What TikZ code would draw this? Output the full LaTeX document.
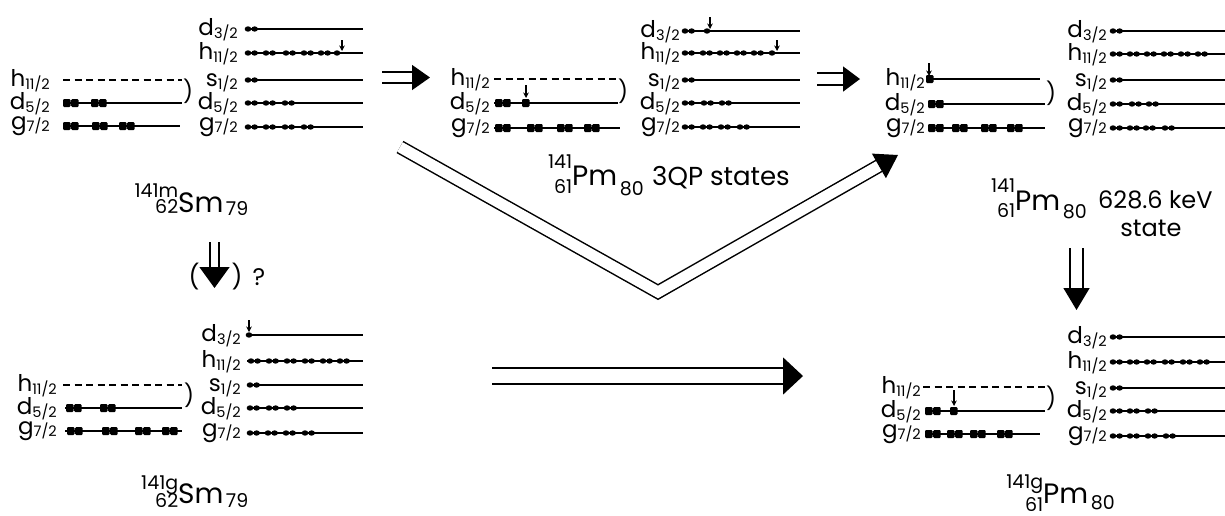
\documentclass[tikz,border=0pt]{standalone}
\usepackage{fontspec}
\setmainfont{Poppins}
\usetikzlibrary{arrows.meta}
\newcommand\forb{\fontsize{23}{23}\selectfont}
\newcommand\fsub{\fontsize{14.5}{14.5}\selectfont}
\newcommand\fel{\fontsize{28}{28}\selectfont}
\newcommand\fnum{\fontsize{19}{19}\selectfont}
\newcommand\ftxt{\fontsize{24}{24}\selectfont}
% orbital label: name, east x, line y, letter, sub
\newcommand\olab[5]{\node[lab] (#1) at (#2,#3+6) {{\forb #4}\raisebox{-3pt}{\fsub #5}};}
\newcommand\glab[5]{\node[lab] (#1) at (#2,#3+3) {{\forb #4}\raisebox{-2pt}{\fsub #5}};}
% levels
\newcommand\lev[3]{\draw[levl] (#1,#3) -- (#2,#3);}
\newcommand\dlev[3]{\draw[levl,dash pattern=on 7pt off 4.5pt] (#1,#3) -- (#2,#3);}
% particles
\newcommand\nn[2]{\fill (#1+3,#2) ellipse[x radius=3.3pt,y radius=2.7pt] (#1+9.6,#2) ellipse[x radius=3.3pt,y radius=2.7pt];}
\newcommand\ns[2]{\fill (#1+3,#2) ellipse[x radius=3.3pt,y radius=2.7pt];}
\newcommand\pp[2]{\fill[rounded corners=1.2pt] (#1,#2-4) rectangle ++(7.5,8) (#1+8.2,#2-4) rectangle ++(7.5,8);}
\newcommand\ps[2]{\fill[rounded corners=1.2pt] (#1,#2-4) rectangle ++(7.5,8);}
\newcommand\hole[3]{\draw[harr] (#1,#2) -- (#1,#3);}
% nuclide: A, Z, El, N, raiseA, lowerZ, lowerN
\newcommand\nuc[7]{{\fnum\llap{\raisebox{#5pt}{#1}}\llap{\raisebox{-#6pt}{#2}}}{\fel #3}\kern2.5pt{\fnum\raisebox{-#7pt}{#4}}}
\begin{document}
\begin{tikzpicture}[x=1pt,y=-1pt,
  lab/.style={anchor=base east,inner sep=0pt},
  levl/.style={line width=1.3pt},
  harr/.style={line width=1.4pt,-{Stealth[length=5.5pt,width=5.5pt]}},
  parn/.style={inner sep=0pt,font=\fontsize{22}{22}\selectfont},
  txt/.style={inner sep=0pt,font=\ftxt},
  dbl/.style={double,line width=1.5pt}]
\fill[white] (0,0) rectangle (1225,515);
\useasboundingbox (0,0) rectangle (1225,515);

% ===== Group A : 141m Sm =====
\dlev{63}{182}{80}\lev{63}{182}{103}\lev{63}{180}{126}
\olab{Aph}{50}{80}{h}{11/2}\olab{Apd}{50}{103}{d}{5/2}\glab{Apg}{50}{126}{g}{7/2}
\foreach \x in {63,91} {\pp{\x}{103}}
\foreach \x in {63,92,119} {\pp{\x}{126}}
\node[parn] (Apar) at (188,91) {)};
\foreach \y in {29,53,80,103,127} {\lev{245}{363}{\y}}
\olab{And}{238}{29}{d}{3/2}\olab{Anh}{238}{53}{h}{11/2}\olab{Ans}{238}{80}{s}{1/2}
\olab{And5}{238}{103}{d}{5/2}\glab{Ang}{238}{127}{g}{7/2}
\nn{245}{29}
\foreach \x in {245,263,283,301,318} {\nn{\x}{53}}
\ns{334}{53}\hole{342}{40}{51}
\nn{245}{80}
\foreach \x in {245,263,282} {\nn{\x}{103}}
\foreach \x in {245,263,282,301} {\nn{\x}{127}}
\node[anchor=base west,inner sep=0pt] (nucA) at (178,212) {\nuc{141m}{62}{Sm}{79}{15}{1}{3}};

% ===== Group B : 141 Pm 3QP =====
\dlev{494}{618}{79}\lev{494}{618}{103}\lev{494}{620}{128}
\olab{Bph}{490}{79}{h}{11/2}\olab{Bpd}{490}{103}{d}{5/2}\glab{Bpg}{490}{128}{g}{7/2}
\pp{495}{103}\ps{522}{103}\hole{526}{85}{98}
\foreach \x in {495,527,557,584} {\pp{\x}{128}}
\node[parn] (Bpar) at (623,91) {)};
\foreach \y in {31,53,80,103,127} {\lev{682}{800}{\y}}
\olab{Bnd}{680}{31}{d}{3/2}\olab{Bnh}{680}{53}{h}{11/2}\olab{Bns}{680}{80}{s}{1/2}
\olab{Bnd5}{680}{103}{d}{5/2}\glab{Bng}{680}{127}{g}{7/2}
\nn{682}{31}\ns{704}{31}\hole{710}{17}{29}
\foreach \x in {682,700,717,734,751} {\nn{\x}{53}}
\ns{769}{53}\hole{777}{40}{51}
\nn{682}{80}
\foreach \x in {682,701,719} {\nn{\x}{103}}
\foreach \x in {682,700,718,737} {\nn{\x}{127}}
\node[anchor=base west,inner sep=0pt] (nucB) at (572,185) {\nuc{141}{61}{Pm}{80}{17}{8}{10}};
\node[txt,anchor=base west,font=\fontsize{26}{26}\selectfont] (qp) at (652,185) {3QP states};

% ===== Group C : 141 Pm 628.6 keV =====
\lev{928}{1040}{79}\lev{928}{1045}{104}\lev{928}{1045}{128}
\olab{Cph}{925}{79}{h}{11/2}\olab{Cpd}{925}{104}{d}{5/2}\glab{Cpg}{925}{128}{g}{7/2}
\ps{926}{79}\hole{929}{63}{76}
\pp{928}{104}
\foreach \x in {928,952,981,1007} {\pp{\x}{128}}
\node[parn] (Cpar) at (1051,93) {)};
\lev{1110}{1225}{31}\lev{1110}{1225}{54}\lev{1110}{1225}{80}\lev{1110}{1225}{104}\lev{1110}{1225}{128}
\olab{Cnd}{1107}{31}{d}{3/2}\olab{Cnh}{1107}{54}{h}{11/2}\olab{Cns}{1107}{80}{s}{1/2}
\olab{Cnd5}{1107}{104}{d}{5/2}\glab{Cng}{1107}{128}{g}{7/2}
\nn{1110}{31}
\foreach \x in {1110,1127,1144,1161,1178,1195} {\nn{\x}{54}}
\nn{1110}{80}
\foreach \x in {1110,1129,1146} {\nn{\x}{104}}
\foreach \x in {1110,1127,1143,1162} {\nn{\x}{128}}
\node[anchor=base west,inner sep=0pt] (nucC) at (1015,210) {\nuc{141}{61}{Pm}{80}{18}{7}{8}};
\node[txt,anchor=base west] (kev) at (1098,208) {628.6 keV};
\node[txt,anchor=base] (st) at (1151,236) {state};

% ===== Group D : 141g Sm =====
\dlev{63}{182}{385}\lev{65}{182}{408}\lev{65}{182}{431}
\olab{Dph}{57}{385}{h}{11/2}\olab{Dpd}{57}{408}{d}{5/2}\glab{Dpg}{57}{431}{g}{7/2}
\foreach \x in {66,100} {\pp{\x}{408}}
\foreach \x in {67,102,135,162} {\pp{\x}{431}}
\node[parn] (Dpar) at (189,395) {)};
\foreach \y in {335,361,385,408,433} {\lev{247}{363}{\y}}
\olab{Dnd}{241}{335}{d}{3/2}\olab{Dnh}{241}{361}{h}{11/2}\olab{Dns}{241}{385}{s}{1/2}
\olab{Dnd5}{241}{408}{d}{5/2}\glab{Dng}{241}{433}{g}{7/2}
\ns{246}{335}\hole{249}{320}{332}
\foreach \x in {248,266,284,302,320,337} {\nn{\x}{361}}
\nn{247}{385}
\foreach \x in {247,266,284} {\nn{\x}{408}}
\foreach \x in {247,265,283,302} {\nn{\x}{433}}
\node[anchor=base west,inner sep=0pt] (nucD) at (178,503) {\nuc{141g}{62}{Sm}{79}{14}{4}{4}};

% ===== Group E : 141g Pm =====
\dlev{923}{1047}{387}\lev{925}{1045}{411}\lev{925}{1040}{434}
\olab{Eph}{921}{387}{h}{11/2}\olab{Epd}{921}{411}{d}{5/2}\glab{Epg}{921}{434}{g}{7/2}
\pp{925}{411}\ps{950}{411}\hole{954}{390}{406}
\foreach \x in {925,947,970,997} {\pp{\x}{434}}
\node[parn] (Epar) at (1051,398) {)};
\foreach \y in {337,362,388,411,436} {\lev{1110}{1225}{\y}}
\olab{End}{1107}{337}{d}{3/2}\olab{Enh}{1107}{362}{h}{11/2}\olab{Ens}{1107}{388}{s}{1/2}
\olab{End5}{1107}{411}{d}{5/2}\glab{Eng}{1107}{436}{g}{7/2}
\nn{1110}{337}
\foreach \x in {1110,1127,1144,1162,1180,1197} {\nn{\x}{362}}
\nn{1110}{388}
\foreach \x in {1110,1127,1145} {\nn{\x}{411}}
\foreach \x in {1110,1127,1145,1163} {\nn{\x}{436}}
\node[anchor=base west,inner sep=0pt] (nucE) at (1043,503) {\nuc{141g}{61}{Pm}{80}{15}{8}{6}};

% ===== arrows =====
\coordinate (t1s) at (382,77.5); \coordinate (t1e) at (430,77.5);
\draw[dbl,double distance=9.5pt,-{Triangle[length=18pt,width=25pt]}] (t1s) -- (t1e);
\coordinate (t2s) at (817,79); \coordinate (t2e) at (860,79);
\draw[dbl,double distance=10.5pt,-{Triangle[length=17pt,width=25pt]}] (t2s) -- (t2e);
\coordinate (vs) at (400,147); \coordinate (vm) at (658,292); \coordinate (ve) at (898,155);
\draw[dbl,double distance=11pt,-{Triangle[length=22pt,width=28pt]}] (vs) -- (vm) -- (ve);
\coordinate (dls) at (214.5,242); \coordinate (dle) at (214.5,288);
\draw[dbl,double distance=7.5pt,-{Triangle[length=21pt,width=30pt]}] (dls) -- (dle);
\node[parn,font=\fontsize{24}{24}\selectfont] (lpar) at (194,277) {(};
\node[parn,font=\fontsize{24}{24}\selectfont] (rpar) at (237,277) {)};
\node[parn,font=\fontsize{24}{24}\selectfont] (qm) at (259,277) {?};
\coordinate (drs) at (1076.5,248); \coordinate (dre) at (1076.5,310);
\draw[dbl,double distance=11.5pt,-{Triangle[length=22pt,width=26pt]}] (drs) -- (dre);
\coordinate (bs) at (492,376); \coordinate (be) at (803,376);
\draw[dbl,double distance=14.5pt,-{Triangle[length=20pt,width=37pt]}] (bs) -- (be);
\end{tikzpicture}
\end{document}
